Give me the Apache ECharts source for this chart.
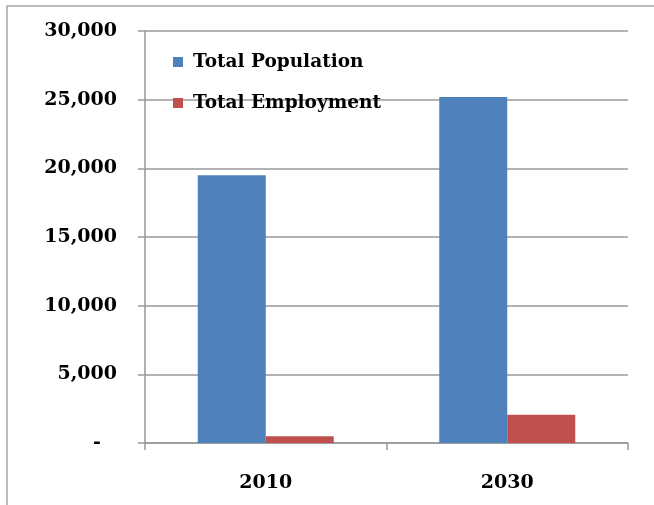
<!DOCTYPE html>
<html>
<head>
<meta charset="utf-8">
<script src="https://cdn.jsdelivr.net/npm/echarts@6/dist/echarts.min.js"></script>
<style>
html,body{margin:0;padding:0;background:#fff;}
#c{width:654px;height:505px;}
</style>
</head>
<body>
<div id="c"></div>
<script>
const categories = ['2010', '2030'];
const populationValues = [19500, 25200];
const employmentValues = [500, 2050];
const seriesNames = ['Total Population', 'Total Employment'];

const chart = echarts.init(document.getElementById('c'), null, {renderer: 'canvas'});
const font = '"DejaVu Serif", "Liberation Serif", serif';
chart.setOption({
  animation: false,
  backgroundColor: '#fff',
  graphic: [{
    type: 'rect',
    shape: {x: 7, y: 6, width: 700, height: 600},
    style: {fill: 'none', stroke: '#a6a6a6', lineWidth: 1.5},
    z: 0
  }],
  grid: {left: 145, right: 26, top: 31, bottom: 62},
  legend: {
    orient: 'vertical',
    left: 173,
    top: 52,
    padding: 0,
    icon: 'rect',
    itemWidth: 10,
    itemHeight: 10,
    itemGap: 21,
    textStyle: {fontFamily: font, fontWeight: 'bold', fontSize: 18.5, color: '#000', lineHeight: 20, padding: [0, 0, 0, 5]},
    data: seriesNames
  },
  xAxis: {
    type: 'category',
    data: categories,
    axisLine: {lineStyle: {color: '#999', width: 1.5}},
    axisTick: {show: true, length: 7, lineStyle: {color: '#999', width: 1.5}},
    axisLabel: {fontFamily: font, fontWeight: 'bold', fontSize: 19, color: '#000', margin: 31}
  },
  yAxis: {
    type: 'value',
    min: 0,
    max: 30000,
    interval: 5000,
    axisLine: {show: true, lineStyle: {color: '#999', width: 1.5}},
    axisTick: {show: true, length: 7, lineStyle: {color: '#999', width: 1.5}},
    splitLine: {lineStyle: {color: '#999', width: 1.5}},
    axisLabel: {
      fontFamily: font, fontWeight: 'bold', fontSize: 19, color: '#000', margin: 28,
      formatter: function (v) {
        if (v === 0) return '{d|-}';
        return v.toString().replace(/\B(?=(\d{3})+(?!\d))/g, ',');
      },
      rich: {d: {fontFamily: font, fontWeight: 'bold', fontSize: 19, color: '#000', padding: [0, 16, 0, 0]}}
    }
  },
  series: [
    {name: seriesNames[0], type: 'bar', data: populationValues, barWidth: 68, barGap: '0%', itemStyle: {color: '#4F81BD'}},
    {name: seriesNames[1], type: 'bar', data: employmentValues, barWidth: 68, barGap: '0%', itemStyle: {color: '#C0504D'}}
  ]
});
</script>
</body>
</html>
